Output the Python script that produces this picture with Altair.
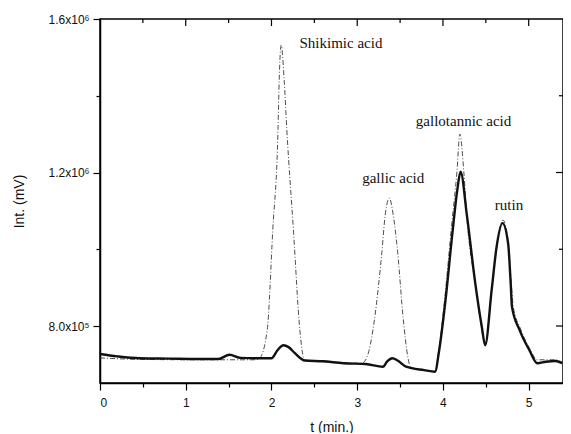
import altair as alt
import pandas as pd

# solid trace (sample)
solid_t = [0, 0.2, 0.46, 0.8, 1.15, 1.38, 1.51, 1.64, 1.87, 2.0, 2.07, 2.14, 2.2, 2.27, 2.39, 2.6, 2.84,
           3.1, 3.30, 3.35, 3.41, 3.47, 3.57, 3.78, 3.907, 3.956, 4.03, 4.11, 4.167, 4.205, 4.281, 4.377,
           4.453, 4.492, 4.568, 4.626, 4.694, 4.76, 4.79, 4.805, 4.893, 5.008, 5.10, 5.20, 5.31, 5.39]
solid_v = [727000, 721000, 716000, 715000, 714000, 714000, 725000, 717000, 716000, 716000, 737000, 750000,
           745000, 730000, 710000, 708000, 703000, 701000, 694000, 708000, 716000, 710000, 694000, 685000,
           681000, 737000, 868000, 1042000, 1154000, 1202000, 1085000, 911000, 798000, 750000, 894000,
           1007000, 1068000, 1015000, 911000, 850000, 790000, 737000, 703000, 707000, 709000, 703000]

# dash-dot trace (standards)
dash_t = [0, 0.46, 1.15, 1.51, 1.80, 1.86, 1.95, 2.015, 2.076, 2.09, 2.113, 2.148, 2.179, 2.256, 2.331,
          2.385, 2.6, 2.84, 3.05, 3.096, 3.134, 3.203, 3.288, 3.326, 3.375, 3.42, 3.471, 3.536, 3.593,
          3.62, 3.78, 3.907, 3.95, 4.02, 4.10, 4.163, 4.197, 4.243, 4.28, 4.38, 4.45, 4.49, 4.57, 4.63,
          4.70, 4.76, 4.80, 4.82, 4.90, 5.01, 5.10, 5.20, 5.31, 5.39]
dash_v = [717000, 713000, 712000, 712000, 712000, 716000, 789000, 1050000, 1311000, 1441000, 1532000,
          1441000, 1311000, 1050000, 789000, 711000, 707000, 704000, 703000, 711000, 733000, 820000,
          994000, 1089000, 1133000, 1089000, 994000, 820000, 716000, 693000, 685000, 681000, 735000,
          870000, 1060000, 1202000, 1300000, 1202000, 1080000, 905000, 795000, 752000, 896000, 1010000,
          1076000, 1020000, 900000, 850000, 795000, 742000, 712000, 712000, 712000, 706000]

# peak labels
ann_text = ["Shikimic acid", "gallic acid", "gallotannic acid", "rutin"]
ann_t = [2.81, 3.42, 4.24, 4.77]
ann_v = [1537000, 1186000, 1334000, 1115000]

# tick positions
x_ticks = [0, 0.5, 1, 1.5, 2, 2.5, 3, 3.5, 4, 4.5, 5]
x_major = [1, 2, 3, 4, 5]
x_minor = [0.5, 1.5, 2.5, 3.5, 4.5]
y_ticks = [800000, 1000000, 1200000, 1400000, 1600000]
y_major = [800000, 1200000]
y_minor = [1000000, 1400000]

solid_df = pd.DataFrame({"t": solid_t, "v": solid_v})
dash_df = pd.DataFrame({"t": dash_t, "v": dash_v})
ann_df = pd.DataFrame({"t": ann_t, "v": ann_v, "label": ann_text})

W, H = 463, 364

xs = alt.Scale(domain=[0, 5.4], nice=False, zero=False)
ys = alt.Scale(domain=[651500, 1600000], nice=False, zero=False)

x_axis = alt.Axis(
    title="t (min.)", values=x_ticks,
    labelExpr="datum.value % 1 === 0 ? format(datum.value, 'd') : ''",
    tickSize={"condition": {"test": "datum.value % 1 !== 0", "value": 4}, "value": 7},
    labelPadding=7, titlePadding=12, grid=False,
)
y_axis = alt.Axis(
    title="Int. (mV)", values=y_ticks,
    labelExpr="datum.value === 800000 ? '8.0x10⁵' : datum.value === 1200000 ? '1.2x10⁶' : datum.value === 1600000 ? '1.6x10⁶' : ''",
    tickSize={"condition": {"test": "datum.value === 1000000 || datum.value === 1400000", "value": 4}, "value": 7},
    labelPadding=4, titlePadding=21, grid=False,
)

dash_line = alt.Chart(dash_df).mark_line(
    color="#222", strokeWidth=0.8, strokeDash=[5, 2, 1, 2], interpolate="monotone"
).encode(x=alt.X("t:Q", scale=xs, axis=x_axis), y=alt.Y("v:Q", scale=ys, axis=y_axis))

solid_line = alt.Chart(solid_df).mark_line(
    color="#111", strokeWidth=2.4, interpolate="monotone"
).encode(x=alt.X("t:Q", scale=xs), y=alt.Y("v:Q", scale=ys))

labels = alt.Chart(ann_df).mark_text(
    font="Liberation Serif, Times New Roman, serif", fontSize=15, align="center",
    baseline="middle", color="#111"
).encode(x=alt.X("t:Q", scale=xs), y=alt.Y("v:Q", scale=ys), text="label:N")

top_major = alt.Chart(pd.DataFrame({"t": x_major})).mark_rule(color="black", strokeWidth=1.2).encode(
    x=alt.X("t:Q", scale=xs), y=alt.value(0), y2=alt.value(7))
top_minor = alt.Chart(pd.DataFrame({"t": x_minor})).mark_rule(color="black", strokeWidth=1.2).encode(
    x=alt.X("t:Q", scale=xs), y=alt.value(0), y2=alt.value(4))
right_major = alt.Chart(pd.DataFrame({"v": y_major})).mark_rule(color="black", strokeWidth=1.2).encode(
    y=alt.Y("v:Q", scale=ys), x=alt.value(W - 7), x2=alt.value(W))
right_minor = alt.Chart(pd.DataFrame({"v": y_minor})).mark_rule(color="black", strokeWidth=1.2).encode(
    y=alt.Y("v:Q", scale=ys), x=alt.value(W - 4), x2=alt.value(W))

chart = alt.layer(
    dash_line, solid_line, labels, top_major, top_minor, right_major, right_minor
).properties(
    width=W, height=H,
    autosize=alt.AutoSizeParams(type="none"),
    padding={"left": 92, "top": 11, "right": 0, "bottom": 50},
).configure_view(
    stroke="black", strokeWidth=1.5
).configure_axis(
    domainColor="black", domainWidth=1.5, tickColor="black", tickWidth=1.2,
    labelFont="Liberation Sans", labelFontSize=12, labelColor="#111",
    titleFont="Liberation Sans", titleFontSize=14, titleFontWeight="normal", titleColor="#111",
)

chart.save("out.html", embed_options={"renderer": "svg", "actions": False})
